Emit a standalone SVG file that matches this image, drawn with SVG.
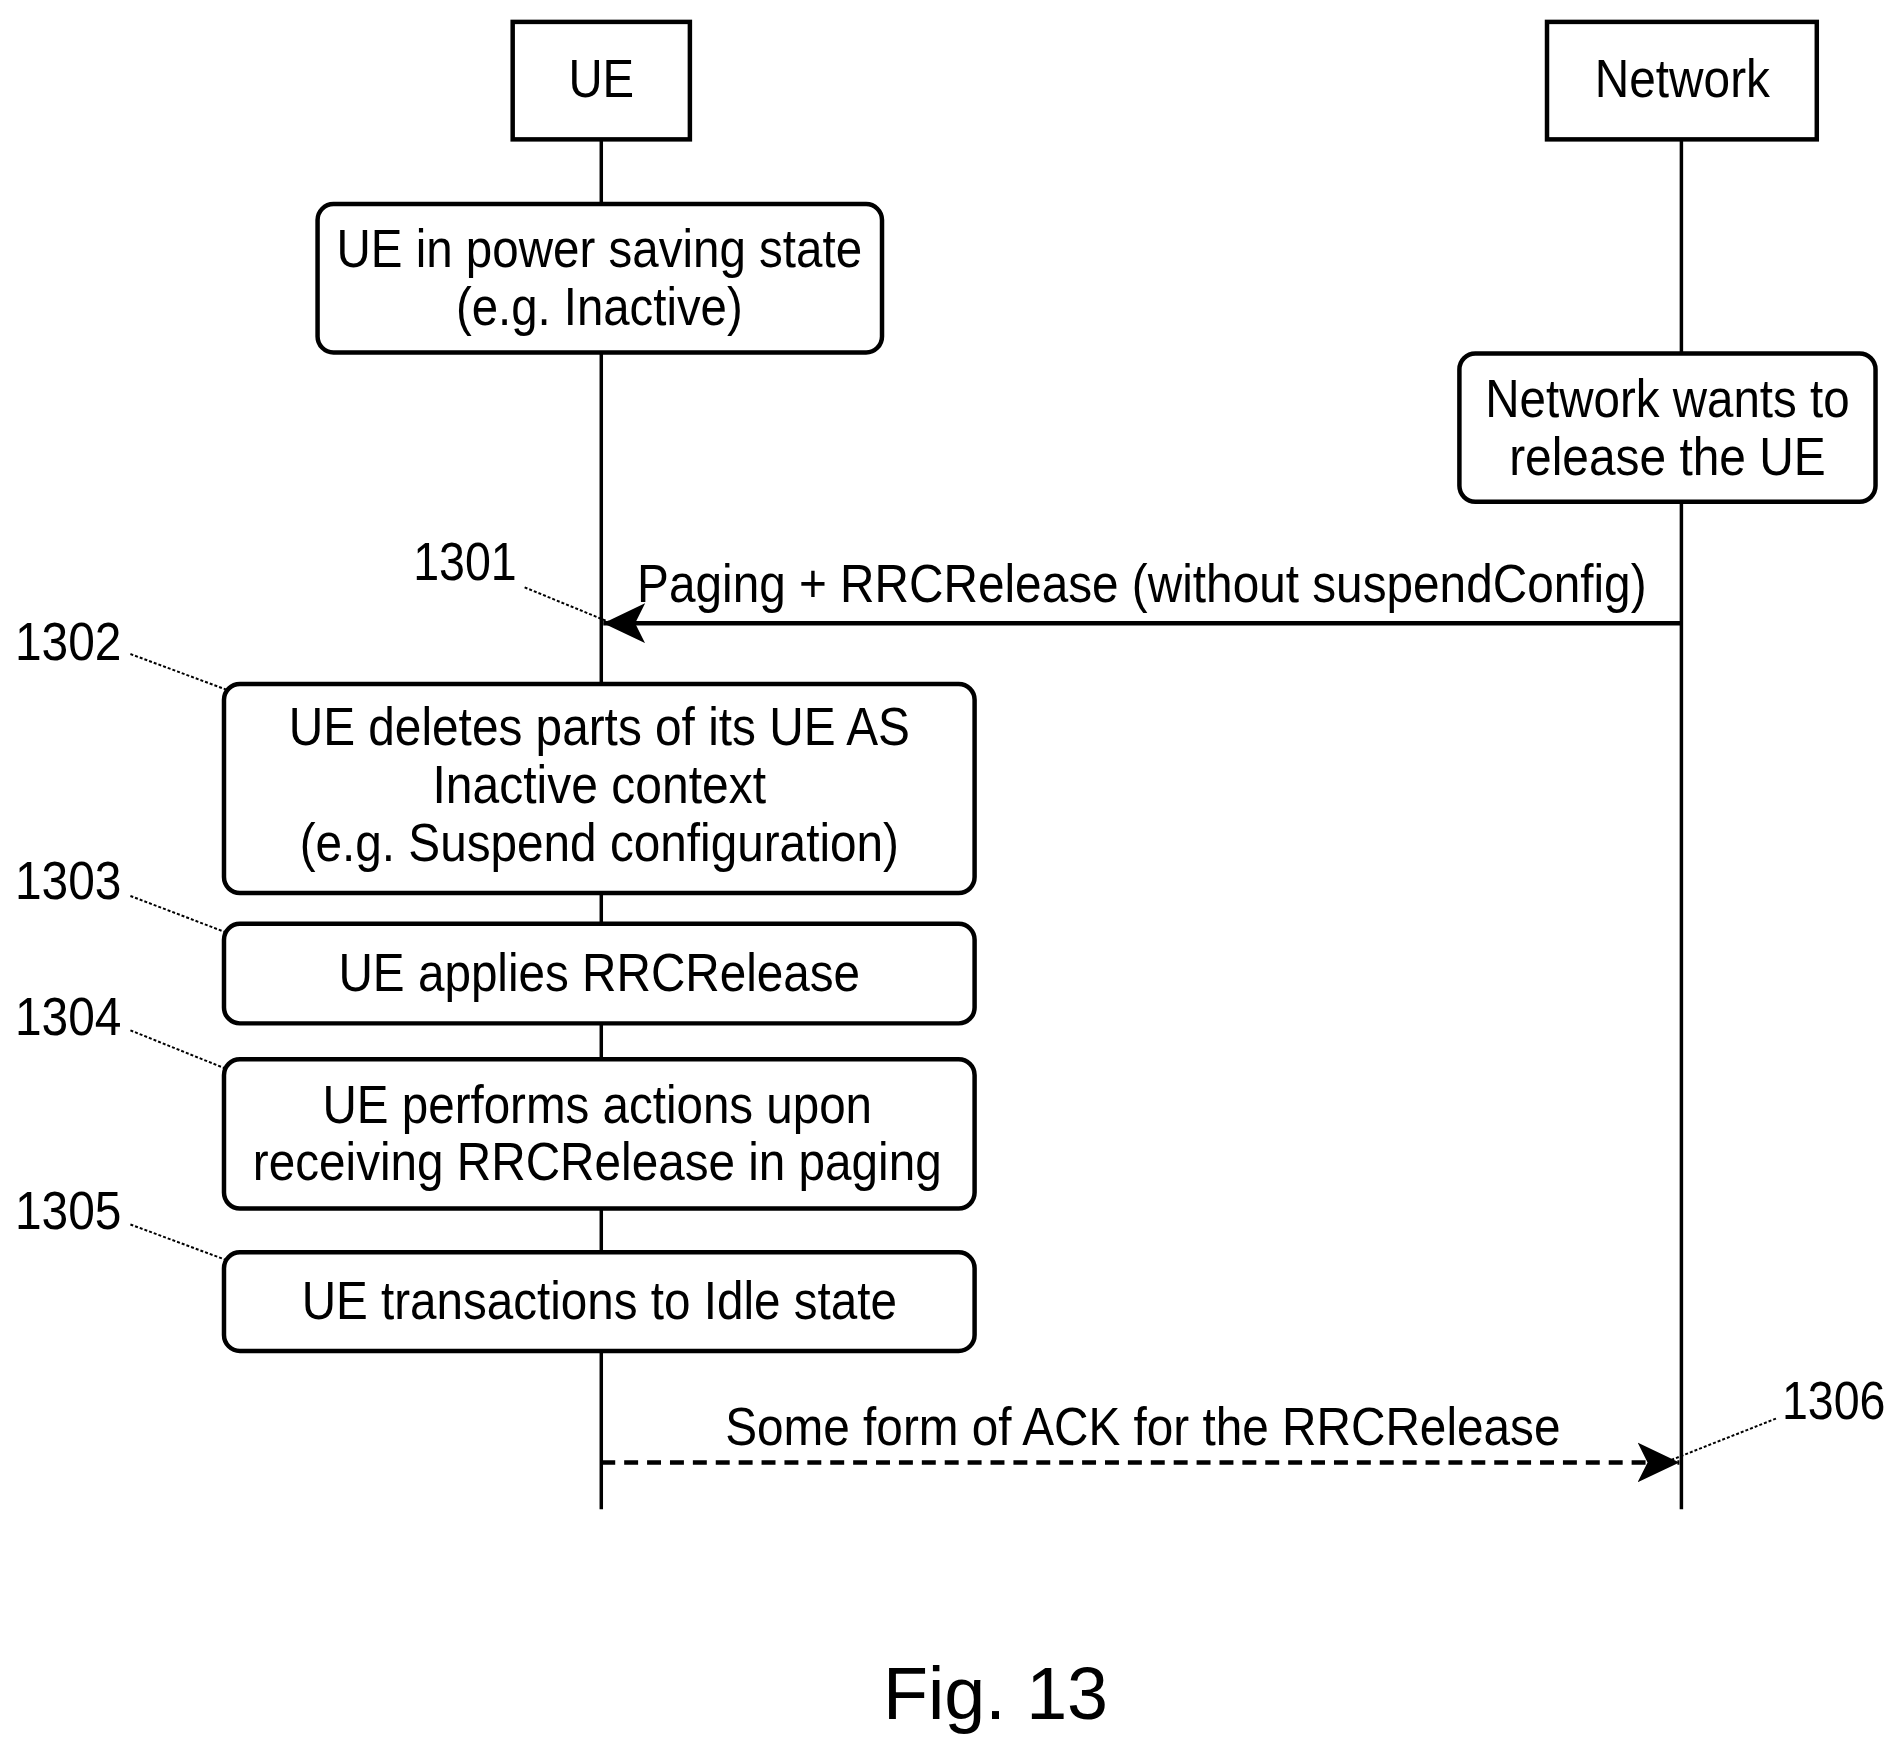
<svg xmlns="http://www.w3.org/2000/svg" width="1904" height="1756" viewBox="0 0 1904 1756">
<style>
.t{font-family:"Liberation Sans",Arial,sans-serif;font-size:54px;text-anchor:middle;fill:#000}
.n{font-family:"Liberation Sans",Arial,sans-serif;font-size:54px;fill:#000}
.b{fill:#fff;stroke:#000;stroke-width:4.5}
.ll{stroke:#000;stroke-width:3.5;fill:none}
.ld{stroke:#000;stroke-width:2;stroke-dasharray:3 2;fill:none}
</style>
<defs>
<marker id="ah2" markerWidth="44" markerHeight="40" refX="42" refY="20" orient="auto" markerUnits="userSpaceOnUse"><path d="M0,0 L42,20 L0,40 L10,20 z" fill="#000"/></marker>
</defs>
<g transform="scale(0.9955)">
<g id="connectors">
<line class="ll" x1="604" y1="140" x2="604" y2="1516"/>
<line class="ll" x1="1689" y1="140" x2="1689" y2="1516"/>
<line x1="1689" y1="626" x2="606" y2="626" stroke="#000" stroke-width="4.5" marker-end="url(#ah2)"/>
<line x1="604" y1="1469" x2="1687" y2="1469" stroke="#000" stroke-width="4.5" stroke-dasharray="14 9" marker-end="url(#ah2)"/>
<text class="n" x="640" y="605" textLength="1014" lengthAdjust="spacingAndGlyphs">Paging + RRCRelease (without suspendConfig)</text>
<text class="t" x="1148" y="1452" textLength="839" lengthAdjust="spacingAndGlyphs">Some form of ACK for the RRCRelease</text>
</g>
<g id="ue"><rect class="b" x="515" y="22" width="178" height="118"/><text class="t" x="604" y="97" textLength="66" lengthAdjust="spacingAndGlyphs">UE</text></g>
<g id="network"><rect class="b" x="1554" y="22" width="271" height="118"/><text class="t" x="1690" y="97" textLength="176" lengthAdjust="spacingAndGlyphs">Network</text></g>
<g id="s0"><rect class="b" x="319" y="205" width="567" height="149" rx="16"/>
<text class="t" x="602" y="268" textLength="528" lengthAdjust="spacingAndGlyphs">UE in power saving state</text>
<text class="t" x="602" y="326" textLength="288" lengthAdjust="spacingAndGlyphs">(e.g. Inactive)</text></g>
<g id="n0"><rect class="b" x="1466" y="355" width="418" height="149" rx="16"/>
<text class="t" x="1675" y="419" textLength="366" lengthAdjust="spacingAndGlyphs">Network wants to</text>
<text class="t" x="1675" y="477" textLength="318" lengthAdjust="spacingAndGlyphs">release the UE</text></g>
<g id="s1302"><rect class="b" x="225" y="687" width="754" height="210" rx="16"/>
<text class="t" x="602" y="748" textLength="624" lengthAdjust="spacingAndGlyphs">UE deletes parts of its UE AS</text>
<text class="t" x="602" y="807" textLength="335" lengthAdjust="spacingAndGlyphs">Inactive context</text>
<text class="t" x="602" y="865" textLength="602" lengthAdjust="spacingAndGlyphs">(e.g. Suspend configuration)</text></g>
<g id="s1303"><rect class="b" x="225" y="928" width="754" height="100" rx="16"/>
<text class="t" x="602" y="995" textLength="524" lengthAdjust="spacingAndGlyphs">UE applies RRCRelease</text></g>
<g id="s1304"><rect class="b" x="225" y="1064" width="754" height="150" rx="16"/>
<text class="t" x="600" y="1128" textLength="552" lengthAdjust="spacingAndGlyphs">UE performs actions upon</text>
<text class="t" x="600" y="1185" textLength="692" lengthAdjust="spacingAndGlyphs">receiving RRCRelease in paging</text></g>
<g id="s1305"><rect class="b" x="225" y="1258" width="754" height="99" rx="16"/>
<text class="t" x="602" y="1325" textLength="598" lengthAdjust="spacingAndGlyphs">UE transactions to Idle state</text></g>
<g id="labels">
<text class="n" x="415" y="583" textLength="104" lengthAdjust="spacingAndGlyphs">1301</text>
<line class="ld" x1="527" y1="590" x2="622" y2="629"/>
<text class="n" x="15" y="663" textLength="107" lengthAdjust="spacingAndGlyphs">1302</text>
<line class="ld" x1="131" y1="657" x2="228" y2="693"/>
<text class="n" x="15" y="903" textLength="107" lengthAdjust="spacingAndGlyphs">1303</text>
<line class="ld" x1="131" y1="900" x2="228" y2="937"/>
<text class="n" x="15" y="1040" textLength="107" lengthAdjust="spacingAndGlyphs">1304</text>
<line class="ld" x1="131" y1="1035" x2="228" y2="1074"/>
<text class="n" x="15" y="1235" textLength="107" lengthAdjust="spacingAndGlyphs">1305</text>
<line class="ld" x1="131" y1="1230" x2="228" y2="1266"/>
<text class="n" x="1790" y="1425" textLength="104" lengthAdjust="spacingAndGlyphs">1306</text>
<line class="ld" x1="1784" y1="1425" x2="1670" y2="1470"/>
<text class="t" x="1000" y="1727" style="font-size:74px">Fig. 13</text>
</g>
</g>
</svg>
